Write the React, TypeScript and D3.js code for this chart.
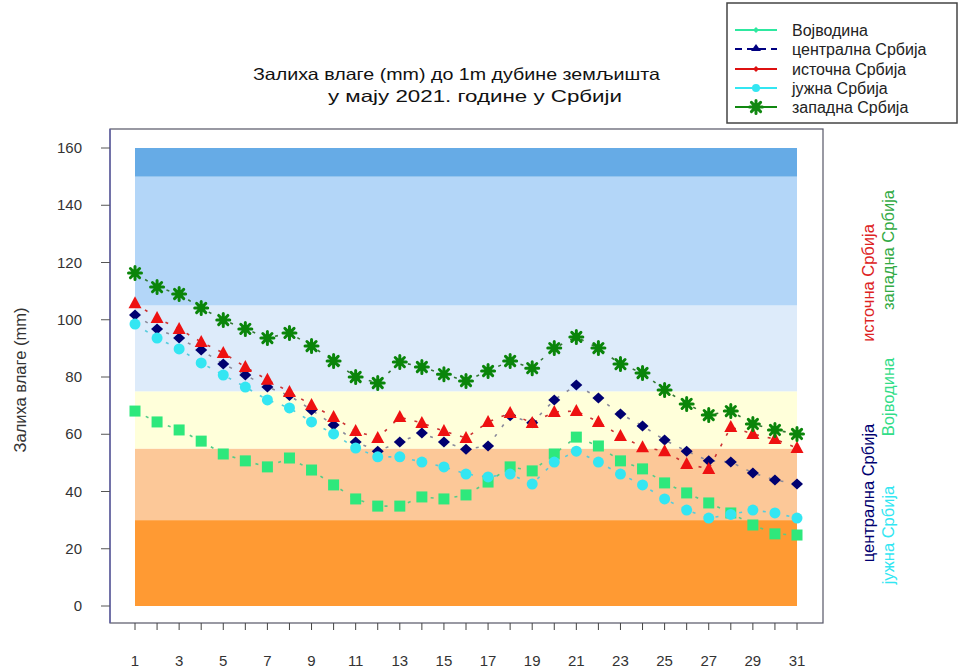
import React from "react";
import * as d3 from "d3";

const days = d3.range(1, 32);
const xTickLabels = [1, 3, 5, 7, 9, 11, 13, 15, 17, 19, 21, 23, 25, 27, 29, 31];
const yTicks = [0, 20, 40, 60, 80, 100, 120, 140, 160];

const vojvodina = [68.1, 64.3, 61.5, 57.6, 53.1, 50.7, 48.6, 51.7, 47.5, 42.3, 37.4, 34.9, 34.9, 38.1, 37.4, 38.8, 43.3, 48.6, 47.2, 53.1, 59.0, 55.9, 50.7, 47.9, 43.0, 39.5, 36.0, 32.5, 28.3, 25.2, 24.8];
const centralna = [101.7, 96.8, 93.6, 89.4, 84.5, 80.7, 76.5, 73.5, 68.5, 63.2, 57.3, 54.1, 57.3, 60.4, 57.3, 54.8, 55.9, 66.5, 64.0, 72.0, 77.2, 72.7, 67.1, 62.9, 58.0, 54.1, 50.7, 50.3, 46.5, 44.0, 42.6];
const istocna = [105.8, 100.6, 96.8, 92.2, 88.4, 83.5, 79.0, 74.8, 70.2, 66.0, 61.1, 58.7, 66.0, 63.9, 61.1, 58.7, 64.3, 67.4, 63.9, 67.8, 68.1, 64.3, 59.4, 55.5, 54.1, 49.6, 47.9, 62.5, 60.1, 58.3, 55.2];
const juzna = [98.5, 93.6, 89.8, 84.9, 80.7, 76.5, 72.0, 69.2, 64.3, 60.1, 55.2, 52.1, 52.1, 50.3, 48.6, 46.1, 45.1, 46.1, 42.6, 50.3, 54.1, 50.3, 46.1, 42.3, 37.4, 33.5, 30.7, 32.0, 33.5, 32.5, 30.7];
const zapadna = [116.3, 111.4, 109.0, 104.1, 99.9, 96.8, 93.6, 95.4, 90.8, 85.6, 80.0, 77.9, 85.2, 83.5, 81.0, 78.6, 82.1, 85.6, 83.1, 90.1, 94.0, 90.1, 84.5, 81.4, 75.5, 70.6, 66.7, 68.1, 63.6, 61.5, 60.1];

const bandLimits = [0, 30, 55, 75, 105, 150, 160];
const bandColors = ["#FF9A33", "#FCC898", "#FFFFDA", "#DDEBFA", "#B3D6F8", "#66ABE6"];

const seriesNames = ["Војводина", "централна Србија", "источна Србија", "јужна Србија", "западна Србија"];

const series = [
  { name: seriesNames[0], values: vojvodina, color: "#2EE87C", line: "#55CC88", marker: "square" },
  { name: seriesNames[1], values: centralna, color: "#000070", line: "#8A8A9A", marker: "diamond" },
  { name: seriesNames[2], values: istocna, color: "#EE1111", line: "#CC3333", marker: "triangle" },
  { name: seriesNames[3], values: juzna, color: "#33E6F2", line: "#55CCDD", marker: "circle" },
  { name: seriesNames[4], values: zapadna, color: "#0A850A", line: "#337733", marker: "asterisk" },
];

const FONT = "'Liberation Sans', Arial, sans-serif";

const x = d3.scaleLinear().domain([1, 31]).range([135, 797]);
const y = d3.scaleLinear().domain([0, 160]).range([606, 148]);

function Marker({ type, cx, cy, color }: { type: string; cx: number; cy: number; color: string }) {
  if (type === "square") return <rect x={cx - 5.5} y={cy - 5.5} width={11} height={11} fill={color} />;
  if (type === "diamond") return <path d={`M${cx},${cy - 5.5}L${cx + 6},${cy}L${cx},${cy + 5.5}L${cx - 6},${cy}Z`} fill={color} />;
  if (type === "triangle") return <path d={`M${cx},${cy - 7}L${cx + 6.5},${cy + 5}L${cx - 6.5},${cy + 5}Z`} fill={color} />;
  if (type === "circle") return <circle cx={cx} cy={cy} r={5.5} fill={color} />;
  const r = 6.5;
  const angles = [0, 45, 90, 135];
  const d = angles
    .map((a) => {
      const rad = (a * Math.PI) / 180;
      const dx = r * Math.cos(rad), dy = r * Math.sin(rad);
      return `M${cx - dx},${cy - dy}L${cx + dx},${cy + dy}`;
    })
    .join("");
  return <path d={d} stroke={color} strokeWidth={3} strokeLinecap="round" fill="none" />;
}

export default function App() {
  const line = d3
    .line<number>()
    .x((_, i) => x(days[i]))
    .y((v) => y(v));

  const legendRows = [30, 49, 69, 88, 107];
  const legendLineColors = ["#2EE8A0", "#000080", "#DD1111", "#33E6F2", "#118811"];
  const legendMarkers = ["smalldiamond", "triangle", "smalldiamond", "circle", "asterisk"];

  return (
    <svg width={961} height={668} style={{ position: "absolute", left: 0, top: 0, background: "#fff" }} fontFamily={FONT}>
      {/* Title */}
      <text x={253} y={80} fontSize={16.5} fill="#111" textLength={407} lengthAdjust="spacingAndGlyphs">Залиха влаге (mm) до 1m дубине земљишта</text>
      <text x={328} y={102} fontSize={16.5} fill="#111" textLength={294} lengthAdjust="spacingAndGlyphs">у мају 2021. године у Србији</text>

      {/* Plot frame */}
      <rect x={110} y={129} width={713} height={494} fill="#fff" stroke="#555566" strokeWidth={1.2} />
      <line x1={110} y1={129} x2={110} y2={623} stroke="#6666AA" strokeWidth={1.5} />

      {/* Bands */}
      {bandColors.map((c, i) => (
        <rect key={i} x={x(1)} y={y(bandLimits[i + 1])} width={x(31) - x(1)} height={y(bandLimits[i]) - y(bandLimits[i + 1])} fill={c} />
      ))}

      {/* Y ticks */}
      {yTicks.map((t) => (
        <g key={t}>
          <line x1={101} x2={110} y1={y(t)} y2={y(t)} stroke="#555" strokeWidth={1} />
          <text x={82} y={y(t) + 5} textAnchor="end" fontSize={15} fill="#333">{t}</text>
        </g>
      ))}
      <text transform={`translate(26,380) rotate(-90)`} textAnchor="middle" fontSize={16.5} fill="#333">Залиха влаге (mm)</text>

      {/* X ticks */}
      {days.map((d) => (
        <line key={d} x1={x(d)} x2={x(d)} y1={623} y2={630} stroke="#444" strokeWidth={1} />
      ))}
      {xTickLabels.map((d) => (
        <text key={d} x={x(d)} y={666} textAnchor="middle" fontSize={15} fill="#333">{d}</text>
      ))}

      {/* Series lines */}
      {series.map((s) => (
        <path key={s.name + "l"} d={line(s.values) || ""} fill="none" stroke={s.line} strokeWidth={1.6} strokeDasharray="3,9" />
      ))}
      {/* Series markers */}
      {series.map((s) => (
        <g key={s.name}>
          {s.values.map((v, i) => (
            <Marker key={i} type={s.marker} cx={x(days[i])} cy={y(v)} color={s.color} />
          ))}
        </g>
      ))}

      {/* Legend */}
      <rect x={727} y={3} width={230} height={120} fill="#fff" stroke="#444" strokeWidth={1.5} />
      {series.map((s, i) => (
        <g key={s.name + "lg"}>
          <line x1={735} x2={777} y1={legendRows[i]} y2={legendRows[i]} stroke={legendLineColors[i]} strokeWidth={2} strokeDasharray={i === 1 ? "7,5" : undefined} />
          {legendMarkers[i] === "smalldiamond" ? (
            <path d={`M756,${legendRows[i] - 3}L759,${legendRows[i]}L756,${legendRows[i] + 3}L753,${legendRows[i]}Z`} fill={legendLineColors[i]} />
          ) : legendMarkers[i] === "triangle" ? (
            <path d={`M756,${legendRows[i] - 5}L761,${legendRows[i] + 2}L751,${legendRows[i] + 2}Z`} fill={legendLineColors[i]} />
          ) : legendMarkers[i] === "circle" ? (
            <circle cx={756} cy={legendRows[i]} r={4} fill={legendLineColors[i]} />
          ) : (
            <Marker type="asterisk" cx={756} cy={legendRows[i]} color={legendLineColors[i]} />
          )}
          <text x={792} y={legendRows[i] + 5.5} fontSize={16} fill="#222">{s.name}</text>
        </g>
      ))}

      {/* Right vertical labels */}
      <text transform="translate(874,283) rotate(-90)" textAnchor="middle" fontSize={16.5} fill="#DD2222">источна Србија</text>
      <text transform="translate(894,250) rotate(-90)" textAnchor="middle" fontSize={16.5} fill="#33AA44">западна Србија</text>
      <text transform="translate(874,493) rotate(-90)" textAnchor="middle" fontSize={16.5} fill="#000070">централна Србија</text>
      <text transform="translate(894,397) rotate(-90)" textAnchor="middle" fontSize={16.5} fill="#33DD88">Војводина</text>
      <text transform="translate(894,535) rotate(-90)" textAnchor="middle" fontSize={16.5} fill="#33E6F2">јужна Србија</text>
    </svg>
  );
}
